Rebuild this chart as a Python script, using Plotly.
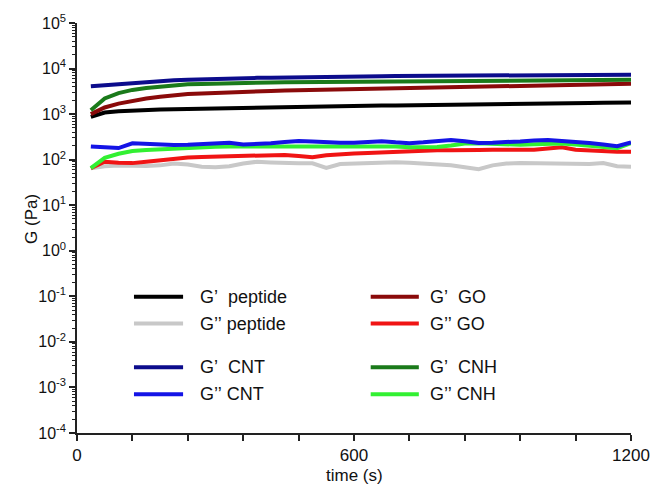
import plotly.graph_objects as go

# ---- data ----
time_s = [30, 60, 90, 120, 150, 180, 210, 240, 270, 300, 330, 360, 390, 420, 450, 480, 510, 540, 570, 600,
          630, 660, 690, 720, 750, 780, 810, 840, 870, 900, 930, 960, 990, 1020, 1050, 1080, 1110, 1140, 1170, 1200]

g1_peptide = [870, 1080, 1150, 1200, 1230, 1260, 1280, 1300, 1320, 1330, 1340, 1360, 1370, 1390, 1400, 1420, 1440, 1460, 1480, 1500,
              1520, 1540, 1550, 1570, 1580, 1600, 1610, 1630, 1640, 1660, 1670, 1690, 1700, 1720, 1730, 1750, 1760, 1770, 1780, 1790]
g2_peptide = [65, 72, 74, 73, 73, 75, 82, 78, 70, 68, 72, 82, 90, 87, 84, 83, 83, 66, 80, 82,
              80, 85, 88, 86, 82, 80, 75, 68, 62, 75, 82, 85, 84, 86, 85, 83, 80, 84, 72, 70]
g1_go = [1000, 1400, 1700, 1980, 2200, 2400, 2600, 2750, 2850, 2950, 3030, 3100, 3170, 3230, 3290, 3340, 3400, 3460, 3520, 3580,
         3640, 3700, 3750, 3800, 3860, 3920, 3980, 4030, 4080, 4130, 4180, 4230, 4280, 4330, 4380, 4430, 4490, 4540, 4600, 4650]
g2_go = [65, 90, 86, 84, 90, 97, 104, 112, 115, 117, 118, 121, 122, 125, 127, 120, 113, 125, 134, 137,
         140, 145, 150, 155, 158, 160, 160, 158, 162, 165, 163, 160, 165, 175, 188, 165, 158, 155, 150, 150]
g1_cnt = [4070, 4300, 4600, 4900, 5100, 5350, 5550, 5700, 5850, 5950, 6050, 6150, 6250, 6300, 6400, 6450, 6500, 6550, 6600, 6650,
          6700, 6800, 6850, 6900, 6900, 6950, 7000, 7000, 7050, 7100, 7100, 7150, 7200, 7200, 7250, 7250, 7300, 7300, 7350, 7350]
g2_cnt = [195, 190, 180, 228, 222, 212, 210, 212, 222, 232, 236, 215, 218, 228, 245, 257, 250, 238, 235, 236,
          248, 255, 240, 230, 240, 258, 270, 255, 232, 236, 240, 252, 265, 270, 258, 248, 232, 215, 198, 240]
g1_cnh = [1220, 2200, 2900, 3400, 3750, 4050, 4300, 4500, 4600, 4700, 4780, 4850, 4900, 4950, 4980, 5000, 5030, 5050, 5080, 5100,
          5120, 5150, 5180, 5200, 5230, 5250, 5280, 5300, 5330, 5350, 5380, 5400, 5430, 5450, 5500, 5530, 5570, 5600, 5650, 5690]
g2_cnh = [65, 110, 135, 155, 162, 168, 175, 185, 190, 192, 195, 195, 198, 200, 200, 200, 198, 197, 195, 195,
          200, 203, 195, 188, 185, 190, 205, 225, 230, 222, 215, 212, 218, 222, 225, 215, 205, 195, 178, 230]

series_names = ["G’\u00a0\u00a0peptide", "G’’\u00a0peptide", "G’\u00a0\u00a0GO", "G’’\u00a0GO",
                "G’\u00a0\u00a0CNT", "G’’\u00a0CNT", "G’\u00a0\u00a0CNH", "G’’\u00a0CNH"]
series_values = [g1_peptide, g2_peptide, g1_go, g2_go, g1_cnt, g2_cnt, g1_cnh, g2_cnh]
series_colors = ["#000000", "#c8c8c8", "#8a0a0a", "#f01414", "#0c0c8c", "#1414e6", "#1a7a1a", "#32f032"]

# tick labels
y_exponents = list(range(-4, 6))
x_tickvals = list(range(0, 1201, 120))
x_ticktext = ["0" if v == 0 else ("600" if v == 600 else ("1200" if v == 1200 else "")) for v in x_tickvals]
x_title = "time (s)"
y_title = "G (Pa)"

FONT = "Arial, 'Liberation Sans', sans-serif"

fig = go.Figure()
order = [1, 3, 7, 5, 0, 2, 6, 4]
for i in order:
    fig.add_trace(go.Scatter(x=time_s, y=series_values[i], mode="lines", name=series_names[i],
                             line=dict(color=series_colors[i], width=4), showlegend=False))

W, H = 662, 487
ml, mr, mt, mb = 77, 21, 21, 54
pw, ph = W - ml - mr, H - mt - mb

def px_x(p):
    return (p - ml) / pw

def px_y(p):
    return (H - mb - p) / ph

# legend (drawn as shapes + text, two columns)
leg_cols = [(135, 185, 200), (376, 425, 434)]
leg_rows = [296, 323, 367, 394]
leg_layout = [(0, 0, 0), (1, 0, 1), (2, 1, 0), (3, 1, 1), (4, 0, 2), (5, 0, 3), (6, 1, 2), (7, 1, 3)]
shapes = []
annotations = []
for idx, col, row in leg_layout:
    x0, x1, xt = leg_cols[col]
    yy = px_y(leg_rows[row])
    shapes.append(dict(type="line", xref="paper", yref="paper", x0=px_x(x0), x1=px_x(x1), y0=yy, y1=yy,
                       line=dict(color=series_colors[idx], width=4)))
    annotations.append(dict(xref="paper", yref="paper", x=px_x(xt), y=yy, xanchor="left", yanchor="middle",
                            text=series_names[idx], showarrow=False, font=dict(family=FONT, size=18, color="#111")))

# axis titles
annotations.append(dict(xref="paper", yref="paper", x=0.5, y=px_y(476), xanchor="center", yanchor="middle",
                        text=x_title, showarrow=False, font=dict(family=FONT, size=17, color="#111")))
annotations.append(dict(xref="paper", yref="paper", x=px_x(30), y=px_y(218), xanchor="center", yanchor="middle",
                        text=y_title, textangle=-90, showarrow=False, font=dict(family=FONT, size=17, color="#111")))

minor_vals = [k * 10.0 ** e for e in range(-4, 5) for k in range(2, 10)]

fig.update_layout(
    width=W, height=H,
    margin=dict(l=ml, r=mr, t=mt, b=mb),
    paper_bgcolor="white", plot_bgcolor="white",
    font=dict(family=FONT, size=17, color="#111"),
    shapes=shapes, annotations=annotations,
    xaxis=dict(range=[0, 1200], tickmode="array", tickvals=x_tickvals, ticktext=x_ticktext,
               ticks="outside", ticklen=6, tickwidth=1.5, tickcolor="#222",
               showline=True, linecolor="#222", linewidth=1.5, showgrid=False, zeroline=False,
               tickfont=dict(size=17)),
    yaxis=dict(type="log", range=[-4, 5], tickmode="array",
               tickvals=[10.0 ** e for e in y_exponents],
               ticktext=[f"10<sup>{e}</sup>" for e in y_exponents],
               ticks="outside", ticklen=6, tickwidth=1.5, tickcolor="#222",
               minor=dict(tickmode="array", tickvals=minor_vals, ticks="outside", ticklen=3,
                          tickwidth=1, tickcolor="#222"),
               showline=True, linecolor="#222", linewidth=1.5, showgrid=False, zeroline=False,
               tickfont=dict(size=16)),
)

fig.write_html("out.html")
